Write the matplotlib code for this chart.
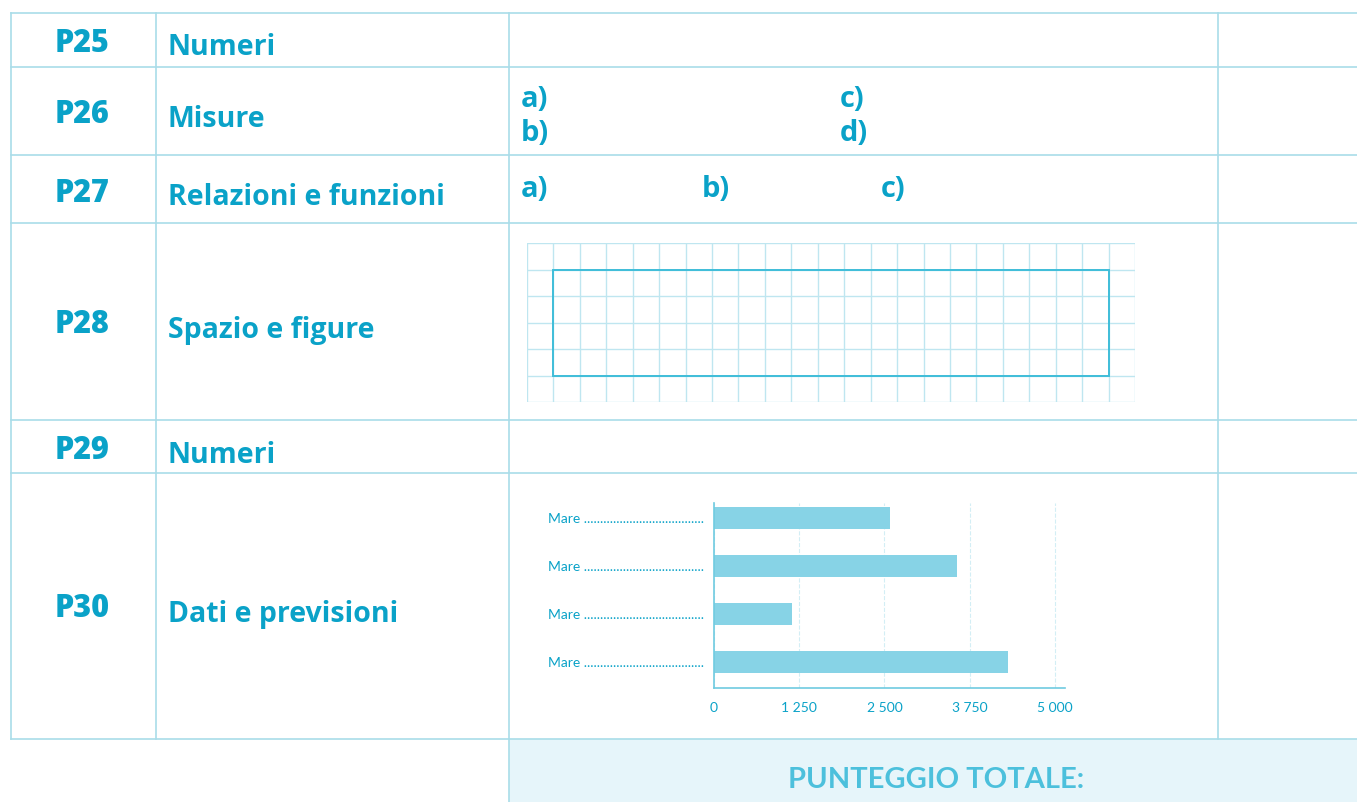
import matplotlib.pyplot as plt
from matplotlib.patches import Rectangle

# --- DATA ---
codes = ["P25", "P26", "P27", "P28", "P29", "P30"]
topics = ["Numeri", "Misure", "Relazioni e funzioni", "Spazio e figure",
          "Numeri", "Dati e previsioni"]
bar_labels = ["Mare", "Mare", "Mare", "Mare"]
bar_values = [2580, 3560, 1150, 4320]
x_ticks = [0, 1250, 2500, 3750, 5000]
x_tick_labels = ["0", "1 250", "2 500", "3 750", "5 000"]
total_label = "PUNTEGGIO TOTALE:"

# --- STYLE ---
TEXT = "#0aa2c8"
LINE = "#a9dde9"
GRID = "#bfe6f0"
BAR = "#87d3e6"
plt.rcParams['font.family'] = ['Lato', 'DejaVu Sans']
HEAD = ['Open Sans', 'DejaVu Sans']

W, H = 1357, 802
fig = plt.figure(figsize=(W / 100, H / 100), dpi=100)
ax = fig.add_axes([0, 0, 1, 1])
ax.set_xlim(0, W)
ax.set_ylim(H, 0)
ax.axis("off")

# table layout (pixel rows)
row_edges = [13, 67, 155, 223, 420, 473, 739]
code_base = [52, 123, 202, 333, 459, 617]
topic_base = [55, 127, 205, 338, 463, 622]
col_edges = [11, 156, 509, 1218]

# total box background
ax.add_patch(Rectangle((509, 739), W - 509, H - 739, color="#e6f5fa", zorder=0))

for y in row_edges:
    ax.plot([11, W], [y, y], color=LINE, lw=1.2, zorder=1)
for x in col_edges:
    ax.plot([x, x], [13, 739], color=LINE, lw=1.2, zorder=1)
ax.plot([509, 509], [739, H], color=LINE, lw=1.2, zorder=1)

for code, topic, yb, yt in zip(codes, topics, code_base, topic_base):
    ax.text(82, yb, code, ha="center", va="baseline", fontsize=22,
            fontweight="heavy", color=TEXT, family=HEAD)
    ax.text(168, yt, topic, ha="left", va="baseline", fontsize=20.5,
            fontweight="bold", color=TEXT, family=HEAD)

# answer letters
for s, x, y in [("a)", 521, 107), ("b)", 521, 141), ("c)", 840, 107),
                ("d)", 840, 141), ("a)", 521, 197), ("b)", 702, 197),
                ("c)", 881, 197)]:
    ax.text(x, y, s, ha="left", va="baseline", fontsize=21,
            fontweight="bold", color=TEXT, family=HEAD)

ax.text(936, 788, total_label, ha="center", va="baseline", fontsize=21,
        fontweight="bold", color="#4cc0dc")

# --- squared paper (P28) ---
gx = fig.add_axes([527 / W, 1 - 402 / H, 608 / W, 159 / H])
gx.set_xlim(0, 23)
gx.set_ylim(0, 6)
for i in range(24):
    gx.axvline(i, color=GRID, lw=1.0)
for j in range(7):
    gx.axhline(j, color=GRID, lw=1.0)
gx.add_patch(Rectangle((1, 1), 21, 4, fill=False, ec="#3fbdd9", lw=1.4, zorder=3))
gx.axis("off")

# --- bar chart (P30) ---
bx = fig.add_axes([714 / W, 1 - 688 / H, 351 / W, 185 / H])
ypos = list(range(len(bar_values)))[::-1]
bx.barh(ypos, bar_values, height=0.46, color=BAR, zorder=2)
bx.set_xlim(0, 5150)
bx.set_ylim(-0.54, 3.31)
bx.set_xticks(x_ticks)
bx.set_xticklabels(x_tick_labels)
bx.set_yticks(ypos)
bx.set_yticklabels([f"{l} " + "." * 37 for l in bar_labels])
bx.tick_params(length=0, colors=TEXT, labelsize=10)
bx.tick_params(axis="x", pad=10)
bx.tick_params(axis="y", pad=7)
for side in ["top", "right"]:
    bx.spines[side].set_visible(False)
for side in ["left", "bottom"]:
    bx.spines[side].set_color("#6fcbe0")
    bx.spines[side].set_linewidth(1.2)
bx.xaxis.grid(True, color="#d3eef5", linestyle="--", lw=0.8, zorder=0)
bx.set_axisbelow(True)
bx.patch.set_alpha(0)

fig.savefig("out.png", dpi=100)
